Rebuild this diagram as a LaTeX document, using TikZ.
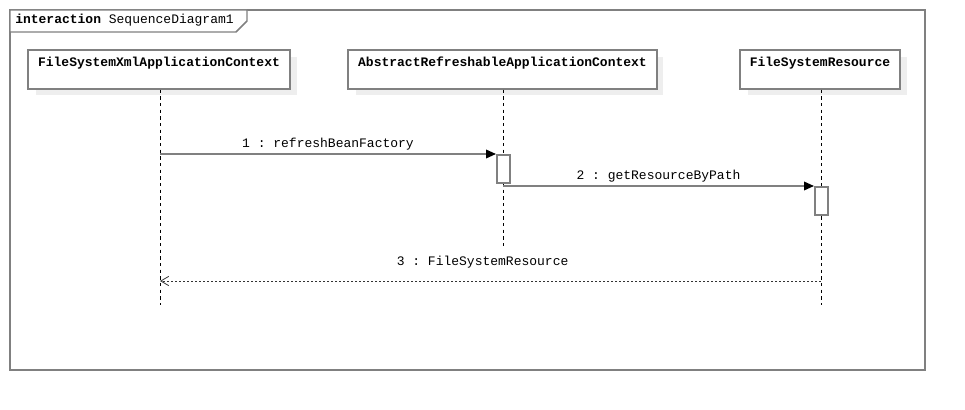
\documentclass[tikz,border=0pt]{standalone}
\usepackage{fontspec}
\setmonofont{Liberation Mono}
\usepackage{tikz}
\usetikzlibrary{arrows.meta,calc}

\definecolor{umlgrey}{RGB}{128,128,128}
\definecolor{umlshadow}{RGB}{238,238,238}

\tikzset{
  umltext/.style={font=\ttfamily\fontsize{9.75}{11}\selectfont},
  lifehead/.style={draw=umlgrey,line width=1.1pt,fill=white,umltext,
    inner xsep=0pt,inner ysep=0pt,text height=12.75pt,text depth=16.5pt},
  headshadow/.style={fill=umlshadow,draw=none},
  lifeline/.style={black,line width=0.7pt,dash pattern=on 2.5pt off 2.5pt},
  activation/.style={draw=umlgrey,line width=1.3pt,fill=white,
    minimum width=9.75pt,minimum height=21pt,inner sep=0pt},
  syncmsg/.style={umlgrey,line width=1.1pt,
    -{Triangle[color=black,length=7.5pt,width=6.5pt]}},
  returnmsg/.style={black!80,line width=0.6pt,dash pattern=on 1.5pt off 1.5pt,
    -{Straight Barb[length=6pt,width=7pt,line width=0.6pt]}},
  msglabel/.style={umltext,text=black,inner sep=2pt}
}

\begin{document}
\begin{tikzpicture}[x=0.75pt,y=-0.75pt]
    \useasboundingbox[fill=white] (0,0) rectangle (965,410);
    % frame
    \draw[umlgrey,line width=1.1pt] (10,10) rectangle (925,370);
    \draw[umlgrey,line width=1.1pt,fill=white]
      (10,10) -- (247,10) -- (247,21) -- (236,32) -- (10,32) -- cycle;
    \node[umltext,anchor=base west,inner sep=0pt] (frametitle) at (15,24)
      {\textbf{interaction} SequenceDiagram1};
    % shadows of the heads
    \fill[headshadow] (36,57) rectangle (297,95);
    \fill[headshadow] (356,57) rectangle (663,95);
    \fill[headshadow] (748,57) rectangle (907,95);
    % heads
    \node[lifehead,minimum width=262*0.75pt,minimum height=39*0.75pt]
      (fsx) at (159,69.5) {\textbf{FileSystemXmlApplicationContext}};
    \node[lifehead,minimum width=309*0.75pt,minimum height=39*0.75pt]
      (arac) at (502.5,69.5) {\textbf{AbstractRefreshableApplicationContext}};
    \node[lifehead,minimum width=160*0.75pt,minimum height=39*0.75pt]
      (fsr) at (820,69.5) {\textbf{FileSystemResource}};
    % lifelines
    \coordinate (fsxend) at (160,305);
    \coordinate (araend) at (503,248);
    \coordinate (fsrend) at (821,305);
    \draw[lifeline] (fsx.south -| fsxend) -- (fsxend);
    \draw[lifeline] (arac.south -| araend) -- (araend);
    \draw[lifeline] (fsr.south -| fsrend) -- (fsrend);
    % activations
    \node[activation,anchor=north west] (act1) at (496,154) {};
    \node[activation,anchor=north west] (act2) at (814,186) {};
    % messages
    \draw[syncmsg] (fsxend |- act1.north west) -- (act1.north west)
      node[msglabel,midway,above=0.5pt] {1 : refreshBeanFactory};
    \draw[syncmsg] (araend |- act2.north west) -- (act2.north west)
      node[msglabel,midway,above=0.5pt] {2 : getResourceByPath};
    \coordinate (ret) at (821,281);
    \draw[returnmsg] (ret) -- (fsxend |- ret)
      node[msglabel,pos=0.512,above=7pt] {3 : FileSystemResource};
\end{tikzpicture}
\end{document}
